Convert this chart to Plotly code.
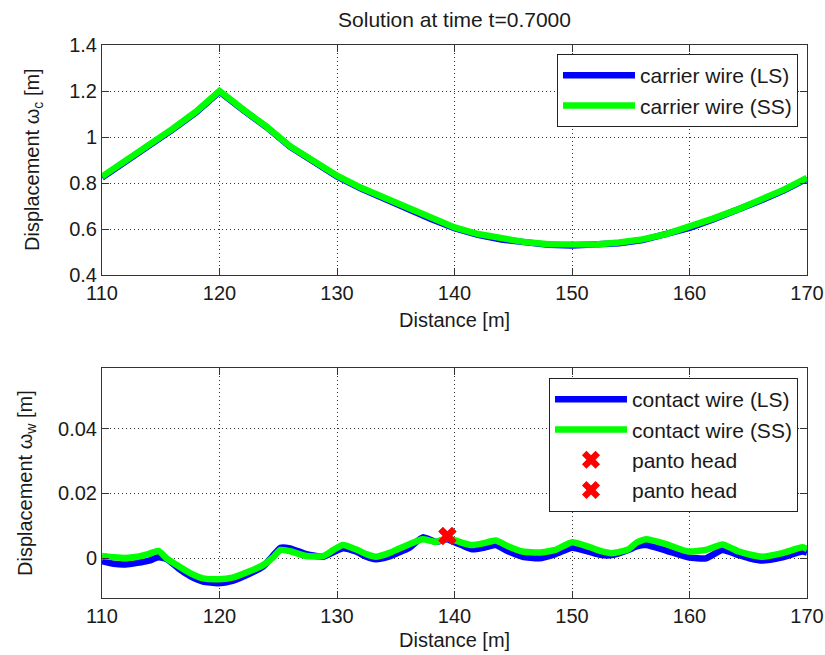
import plotly.graph_objects as go

# ---------------- data ----------------
x_carrier = [110, 112, 114, 116, 118, 120, 122, 124, 126, 128, 130, 132, 134, 136, 138,
             140, 142, 144, 146, 148, 150, 152, 154, 156, 158, 160, 162, 164, 166, 168, 170]
carrier_ss = [0.828, 0.895, 0.963, 1.035, 1.110, 1.200, 1.120, 1.045, 0.960, 0.895, 0.832,
              0.780, 0.735, 0.692, 0.647, 0.607, 0.578, 0.557, 0.543, 0.534, 0.531, 0.533,
              0.541, 0.555, 0.578, 0.608, 0.645, 0.683, 0.726, 0.770, 0.822]
carrier_ls = [0.824, 0.892, 0.960, 1.032, 1.107, 1.197, 1.118, 1.043, 0.958, 0.892, 0.829,
              0.777, 0.731, 0.689, 0.644, 0.604, 0.575, 0.554, 0.540, 0.531, 0.528, 0.530,
              0.538, 0.552, 0.575, 0.605, 0.642, 0.680, 0.723, 0.767, 0.819]

x_contact = [110.0, 111.0, 112.0, 113.0, 114.0, 114.8, 115.5, 116.5, 117.5, 118.6, 119.9,
             121.1, 122.5, 123.7, 124.5, 125.2, 126.0, 127.4, 128.8, 129.7, 130.5, 131.6,
             132.5, 133.3, 134.4, 135.2, 136.1, 137.3, 138.4, 139.4, 139.8, 140.6, 141.5,
             142.5, 143.5, 144.6, 145.8, 147.2, 148.6, 150.0, 151.4, 152.4, 153.4, 154.8,
             155.5, 156.3, 158.0, 159.9, 161.4, 162.8, 164.2, 165.2, 166.2, 167.9, 169.6, 170.0]
contact_ss = [0.0006, 0.0002, 0.0000, 0.0004, 0.0013, 0.0022, -0.0001, -0.0025, -0.0047,
              -0.0063, -0.0066, -0.0061, -0.0042, -0.0022, 0.0000, 0.0025, 0.0021, 0.0006,
              0.0006, 0.0025, 0.0040, 0.0027, 0.0012, 0.0004, 0.0015, 0.0028, 0.0042, 0.0058,
              0.0050, 0.0062, 0.0058, 0.0048, 0.0040, 0.0046, 0.0054, 0.0036, 0.0020, 0.0017,
              0.0025, 0.0049, 0.0035, 0.0022, 0.0015, 0.0027, 0.0048, 0.0058, 0.0043, 0.0020,
              0.0025, 0.0042, 0.0020, 0.0010, 0.0004, 0.0015, 0.0033, 0.0028]
contact_ls = [-0.0010, -0.0018, -0.0020, -0.0015, -0.0008, 0.0002, -0.0003, -0.0032, -0.0056,
              -0.0073, -0.0078, -0.0071, -0.0050, -0.0027, 0.0005, 0.0032, 0.0030, 0.0012,
              0.0004, 0.0018, 0.0030, 0.0020, 0.0004, -0.0004, 0.0004, 0.0016, 0.0030, 0.0064,
              0.0050, 0.0058, 0.0052, 0.0040, 0.0027, 0.0032, 0.0040, 0.0020, 0.0004, -0.0001,
              0.0012, 0.0032, 0.0020, 0.0010, 0.0009, 0.0025, 0.0036, 0.0040, 0.0023, 0.0002,
              -0.0001, 0.0025, 0.0009, -0.0002, -0.0008, 0.0002, 0.0020, 0.0017]

panto_x = [139.4]
panto_ls = [0.0068]
panto_ss = [0.0068]

x_ticks = [110, 120, 130, 140, 150, 160, 170]
top_yticks = [0.4, 0.6, 0.8, 1.0, 1.2, 1.4]
bot_yticks = [0, 0.02, 0.04]
bot_yticklabels = ["0", "0.02", "0.04"]

# ---------------- figure ----------------
FONT = "Liberation Sans, Arial, sans-serif"
FS = 20
FS_LEG = 21
TXT = "#1a1a1a"
BLUE = "#0000ff"
GREEN = "#00ff00"

fig = go.Figure()
fig.add_trace(go.Scatter(x=x_carrier, y=carrier_ls, mode="lines", name="carrier wire (LS)",
                         line=dict(color=BLUE, width=6.5), legendgroup="a",
                         xaxis="x", yaxis="y", legend="legend"))
fig.add_trace(go.Scatter(x=x_carrier, y=carrier_ss, mode="lines", name="carrier wire (SS)",
                         line=dict(color=GREEN, width=6.5), legendgroup="b",
                         xaxis="x", yaxis="y", legend="legend"))
fig.add_trace(go.Scatter(x=x_contact, y=contact_ls, mode="lines", name="contact wire (LS)",
                         line=dict(color=BLUE, width=6.5, shape="spline", smoothing=0.5),
                         legendgroup="c", xaxis="x2", yaxis="y2", legend="legend2"))
fig.add_trace(go.Scatter(x=x_contact, y=contact_ss, mode="lines", name="contact wire (SS)",
                         line=dict(color=GREEN, width=6.5, shape="spline", smoothing=0.5),
                         legendgroup="d", xaxis="x2", yaxis="y2", legend="legend2"))
fig.add_trace(go.Scatter(x=panto_x, y=panto_ls, mode="markers", name="panto head",
                         marker=dict(symbol="x", size=16, color="#ff0000", line=dict(width=0)),
                         legendgroup="e", xaxis="x2", yaxis="y2", legend="legend2"))
fig.add_trace(go.Scatter(x=panto_x, y=panto_ss, mode="markers", name="panto head",
                         marker=dict(symbol="x", size=16, color="#ff0000", line=dict(width=0)),
                         legendgroup="f", xaxis="x2", yaxis="y2", legend="legend2"))

W, H = 825, 655
L, R = 102, 807
top_t, top_b = 45, 275
bot_t, bot_b = 368, 598

axis_common = dict(
    showline=True, linecolor="#333333", linewidth=1, mirror="ticks",
    ticks="inside", ticklen=7, tickcolor="#333333",
    showgrid=True, gridcolor="#333333", griddash="1px,3px", gridwidth=1,
    zeroline=False, automargin=False,
    tickfont=dict(family=FONT, size=FS, color=TXT),
)

fig.update_layout(
    width=W, height=H,
    margin=dict(l=0, r=0, t=0, b=0),
    paper_bgcolor="white", plot_bgcolor="white",
    font=dict(family=FONT, size=FS, color=TXT),
    title=dict(text="Solution at time t=0.7000", x=(L + R) / 2 / W, xanchor="center",
               y=1 - 20 / H, yanchor="middle", font=dict(family=FONT, size=21, color=TXT)),
    xaxis=dict(domain=[L / W, R / W], range=[110, 170], tickvals=x_ticks, anchor="y",
               **axis_common),
    yaxis=dict(domain=[1 - top_b / H, 1 - top_t / H], range=[0.4, 1.4], tickvals=top_yticks,
               anchor="x", **axis_common),
    xaxis2=dict(domain=[L / W, R / W], range=[110, 170], tickvals=x_ticks, anchor="y2",
                **axis_common),
    yaxis2=dict(domain=[1 - bot_b / H, 1 - bot_t / H], range=[-0.0124, 0.0589],
                tickvals=bot_yticks, ticktext=bot_yticklabels, anchor="x2", **axis_common),
    legend=dict(x=798 / W, xanchor="right", y=1 - 54 / H, yanchor="top",
                bgcolor="white", bordercolor="#222222", borderwidth=1, itemwidth=72,
                font=dict(family=FONT, size=FS_LEG, color=TXT), tracegroupgap=0),
    legend2=dict(x=798 / W, xanchor="right", y=1 - 378 / H, yanchor="top",
                 bgcolor="white", bordercolor="#222222", borderwidth=1, itemwidth=72,
                 font=dict(family=FONT, size=FS_LEG, color=TXT), tracegroupgap=0),
    showlegend=True,
)

# axis titles as paper annotations (placed like the reference)
ann = dict(xref="paper", yref="paper", showarrow=False,
           font=dict(family=FONT, size=FS, color=TXT))
fig.add_annotation(text="Distance [m]", x=(L + R) / 2 / W, y=1 - 320 / H,
                   xanchor="center", yanchor="middle", **ann)
fig.add_annotation(text="Distance [m]", x=(L + R) / 2 / W, y=1 - 640 / H,
                   xanchor="center", yanchor="middle", **ann)
fig.add_annotation(text="Displacement ω<sub>c</sub> [m]", x=34 / W,
                   y=1 - (top_t + top_b) / 2 / H, xanchor="center", yanchor="middle",
                   textangle=-90, **ann)
fig.add_annotation(text="Displacement ω<sub>w</sub> [m]", x=26 / W,
                   y=1 - (bot_t + bot_b) / 2 / H, xanchor="center", yanchor="middle",
                   textangle=-90, **ann)

fig.write_html("out.html")
